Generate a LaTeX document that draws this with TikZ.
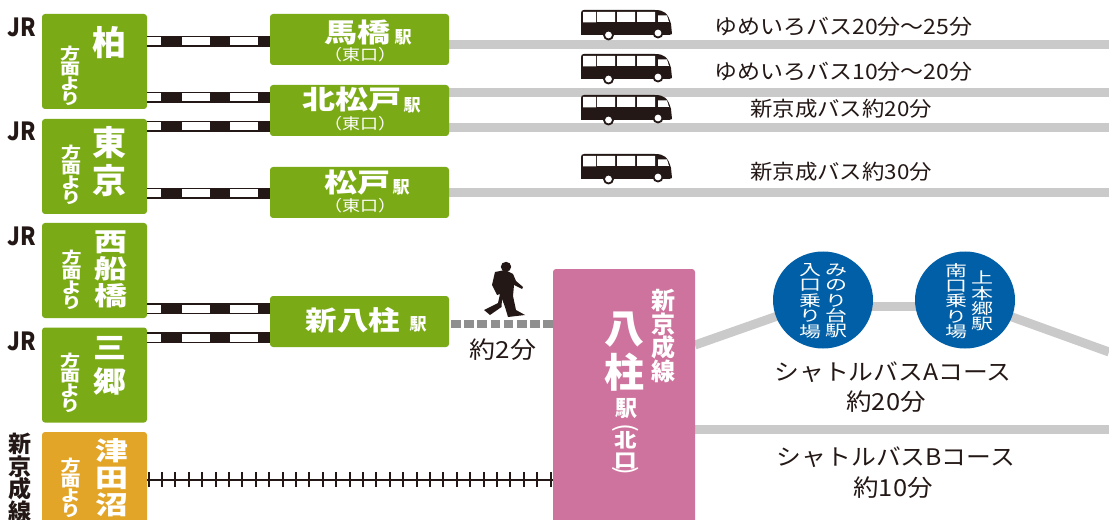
\documentclass[tikz,border=0pt]{standalone}
\usepackage{fontspec}
\usetikzlibrary{shapes.geometric,backgrounds}
\setmainfont{Noto Sans CJK JP}
\definecolor{grn}{HTML}{7BAA17}
\definecolor{org}{HTML}{E2A528}
\definecolor{pnk}{HTML}{CE739D}
\definecolor{blu}{HTML}{005FA6}
\definecolor{gry}{HTML}{C9CAC9}
\definecolor{ink}{HTML}{231815}
\definecolor{wlk}{HTML}{8F8F8F}
\newcommand\sz[2]{\fontsize{\the\dimexpr#1pt*3/4\relax}{\the\dimexpr#2pt*3/4\relax}\lineskiplimit=-50pt\selectfont}
\def\px{.75pt}
\tikzset{
 x=.75pt,y=-.75pt,
 boxn/.style={rounded corners=3*\px,inner sep=0pt,outer sep=0pt,anchor=north west},
 gbox/.style={boxn,fill=grn,minimum width=105*\px,minimum height=95*\px},
 sbox/.style={boxn,fill=grn,minimum width=179*\px},
 circ/.style={ellipse,fill=blu,inner sep=0pt,outer sep=0pt,minimum width=100*\px,minimum height=97*\px},
 wt/.style={text=white,inner sep=0pt,align=center},
 bk/.style={text=ink,inner sep=0pt,align=center},
 railb/.style={draw=ink,line width=11*\px},
 railw/.style={draw=white,line width=8*\px,dash pattern=on 14*\px off 21*\px on 27.5*\px off 20.5*\px on 28*\px off 200*\px},
 grayl/.style={draw=gry,line width=9*\px},
 pics/bus/.style={code={
  \fill[ink] (0,3) .. controls (0,1) and (1,0) .. (3,0) -- (74,0) .. controls (83,0) and (87,3) .. (90,14) -- (91,24) -- (88,25) -- (0,25) -- cycle;
  \fill[white] (2,2) -- (15,2) -- (15,12.5) -- (2,12.5) -- cycle
   (16,2) -- (34,2) -- (34,12) -- (16,12) -- cycle
   (36,2) -- (54,2) -- (54,12) -- (36,12) -- cycle
   (56,2) -- (74,2) -- (74,12) -- (56,12) -- cycle
   (77,5.5) -- (86,5.5) -- (88,12) -- (77,12) -- cycle;
  \fill[ink] (27.5,25) circle[radius=5.5*\px] (77,23) circle[radius=5.5*\px];
  \fill[white] (27.5,25) circle[radius=3.4*\px] (77,23) circle[radius=3.4*\px];
 }},
}
\begin{document}
\begin{tikzpicture}
\useasboundingbox (0,0) rectangle (1109,520);
% boxes
\node[gbox] (kashiwa) at (42,14) {};
\node[gbox] (tokyo) at (42,119) {};
\node[gbox] (nishi) at (42,223) {};
\node[gbox] (misato) at (42,327.5) {};
\node[gbox,fill=org,minimum height=110*\px] (tsuda) at (42,432) {};
\node[sbox,minimum height=51*\px] (uma) at (270,14) {};
\node[sbox,minimum height=51*\px] (kita) at (270,85) {};
\node[sbox,minimum height=51*\px] (matsudo) at (270,167) {};
\node[sbox,minimum height=51*\px] (shin) at (270,296) {};
\node[boxn,fill=pnk,minimum width=142*\px,minimum height=270*\px] (yabashira) at (553,269) {};
\node[circ] (minori) at (823,300) {};
\node[circ] (kamihongo) at (965,300) {};
% coordinates
\coordinate (r1) at (0,41.5);
\coordinate (r2) at (0,97.5);
\coordinate (r3) at (0,126.5);
\coordinate (r4) at (0,193.5);
\coordinate (r5) at (0,308.5);
\coordinate (r6) at (0,337.5);
\coordinate (g1) at (1109,44.5);
\coordinate (g2) at (1109,92.5);
\coordinate (g3) at (1109,127.5);
\coordinate (g4) at (1109,192.5);
\coordinate (gb) at (1109,429);
\coordinate (ga) at (1109,352);
\coordinate (pa) at (695,345);
\coordinate (wy) at (0,324);
\coordinate (ty) at (0,480);
% grey lines
\begin{pgfonlayer}{background}
\draw[grayl] (uma.east |- g1) -- (g1);
\draw[grayl] (kita.east |- g2) -- (g2);
\draw[grayl] (kita.east |- g3) -- (g3);
\draw[grayl] (matsudo.east |- g4) -- (g4);
\draw[grayl] (yabashira.east |- gb) -- (gb);
\draw[grayl] (pa) -- (minori.center);
\draw[grayl] (minori.-8) -- (kamihongo.188);
\draw[grayl] (kamihongo.center) -- (ga);
\end{pgfonlayer}
% rails
\foreach \a/\b/\r in {kashiwa/uma/r1,kashiwa/kita/r2,tokyo/kita/r3,tokyo/matsudo/r4,nishi/shin/r5,misato/shin/r6}{
 \draw[railb] (\a.east |- \r) -- (\b.west |- \r);
 \draw[railw] (\a.east |- \r) -- (\b.west |- \r);
}
% walk
\draw[draw=wlk,line width=8*\px,dash pattern=on 9.5*\px off 3.7*\px] ([xshift=1.5pt]shin.east |- wy) -- (yabashira.west |- wy);
% track
\draw[draw=ink,line width=2.4*\px] (tsuda.east |- ty) -- (yabashira.west |- ty);
\foreach \i in {0,...,30}{\draw[draw=ink,line width=2*\px] (148.5+13.4*\i,472) -- (148.5+13.4*\i,487);}
% buses
\pic at (581,10) {bus};
\pic at (581,54) {bus};
\pic at (581,95) {bus};
\pic at (581,154) {bus};
% person
\fill[ink] (506,266.8) ellipse[x radius=5.2*\px,y radius=5*\px];
\fill[ink] (495,272) -- (505,270) -- (513,274) -- (516,281) -- (523,287) -- (522,289) -- (514,285) -- (513,296) -- (516,310) -- (525,315) -- (508,317) -- (505,307) -- (502,299) -- (501.5,307) -- (490,315) -- (484,310) -- (498,303) -- (500,294) -- (497,295) -- (492,285) -- cycle;
% JR labels
\foreach \n/\y in {a/27,b/131,c/236,d/341}{\node[bk,font=\sz{25}{25}\bfseries,xscale=.88,transform shape] (jr\n) at (22,\y) {JR};}
\node[bk,font=\sz{23}{22.5}\bfseries,anchor=north] (skl) at (20,433) {新\\京\\成\\線};
% Left box texts
\node[wt,font=\sz{34}{34}\bfseries] (t1) at (109,43) {柏};
\node[wt,font=\sz{34}{38}\bfseries] (t2) at (109,162) {東\\京};
\node[wt,font=\sz{33}{34.5}\bfseries,yscale=.78,transform shape] (t3) at (110.5,269.5) {西\\船\\橋};
\node[wt,font=\sz{33}{38}\bfseries,yscale=.88,transform shape] (t4) at (110,366) {三\\郷};
\node[wt,font=\sz{33}{34.5}\bfseries,yscale=.78,transform shape] (t5) at (112,478) {津\\田\\沼};
\foreach \n/\x/\y in {a/70/76,b/71/175,c/71.5/280,d/70/383,e/70.5/488}{
 \node[wt,font=\sz{20}{19}\bfseries,yscale=.78,transform shape] (h\n) at (\x,\y) {方\\面\\よ\\り};
}
% Station texts
\node[wt,font=\sz{33}{33}\bfseries,yscale=.8,transform shape] (n1) at (357.5,32) {馬橋};
\node[wt,font=\sz{17}{17}\bfseries] (e1) at (403,37) {駅};
\node[wt,font=\sz{18}{18},yscale=.85,transform shape] (p1) at (360,55) {（東口）};
\node[wt,font=\sz{33}{33}\bfseries,yscale=.8,transform shape] (n2) at (352,100) {北松戸};
\node[wt,font=\sz{17}{17}\bfseries] (e2) at (412,105) {駅};
\node[wt,font=\sz{18}{18},yscale=.85,transform shape] (p2) at (360,124) {（東口）};
\node[wt,font=\sz{33}{33}\bfseries,yscale=.8,transform shape] (n3) at (357,183) {松戸};
\node[wt,font=\sz{17}{17}\bfseries] (e3) at (401,187) {駅};
\node[wt,font=\sz{18}{18},yscale=.85,transform shape] (p3) at (360,206) {（東口）};
\node[wt,font=\sz{31.5}{31.5}\bfseries,yscale=.85,transform shape] (n4) at (353,320) {新八柱};
\node[wt,font=\sz{17}{17}\bfseries] (e4) at (418,324) {駅};
% bus texts
\node[bk,font=\sz{23}{23},anchor=west,yscale=.92,transform shape] (b1) at (714,27) {ゆめいろバス20分〜25分};
\node[bk,font=\sz{23}{23},anchor=west,yscale=.92,transform shape] (b2) at (714,72) {ゆめいろバス10分〜20分};
\node[bk,font=\sz{22.4}{23},anchor=west,yscale=.92,transform shape] (b3) at (750,109) {新京成バス約20分};
\node[bk,font=\sz{22.4}{23},anchor=west,yscale=.92,transform shape] (b4) at (750,172) {新京成バス約30分};
\node[bk,font=\sz{26}{24},yscale=.9,transform shape] (w2) at (503,350) {約2分};
\node[bk,font=\sz{24.8}{24},yscale=.92,transform shape] (ca) at (893,372) {シャトルバスAコース};
\node[bk,font=\sz{25.5}{24},yscale=.92,transform shape] (cat) at (886,402) {約20分};
\node[bk,font=\sz{24.8}{24},yscale=.92,transform shape] (cb) at (896,457) {シャトルバスBコース};
\node[bk,font=\sz{25.5}{24},yscale=.92,transform shape] (cbt) at (893,488) {約10分};
% pink
\node[wt,font=\sz{24}{23.5}\bfseries,anchor=north] (y1) at (663,289) {新\\京\\成\\線};
\node[wt,font=\sz{40}{44}\bfseries] (y2) at (624,352) {八\\柱};
\node[wt,font=\sz{22}{22}\bfseries] (y3) at (626,409) {駅};
\node[wt,font=\sz{26}{26},rotate=-90] (y4) at (626,428) {(};
\node[wt,font=\sz{22.5}{23.5}\bfseries,yscale=.85,transform shape] (y5) at (626,450) {北\\口};
\node[wt,font=\sz{26}{26},rotate=-90] (y6) at (626,471) {)};
% circles
\node[wt,font=\sz{22}{22},yscale=.7,transform shape] (c1) at (836,301) {み\\の\\り\\台\\駅};
\node[wt,font=\sz{22}{22},yscale=.7,transform shape] (c2) at (810,301) {入\\口\\乗\\り\\場};
\node[wt,font=\sz{22}{22},yscale=.7,transform shape] (c3) at (982,301) {上\\本\\郷\\駅};
\node[wt,font=\sz{22}{22},yscale=.7,transform shape] (c4) at (956,301) {南\\口\\乗\\り\\場};
\end{tikzpicture}
\end{document}
